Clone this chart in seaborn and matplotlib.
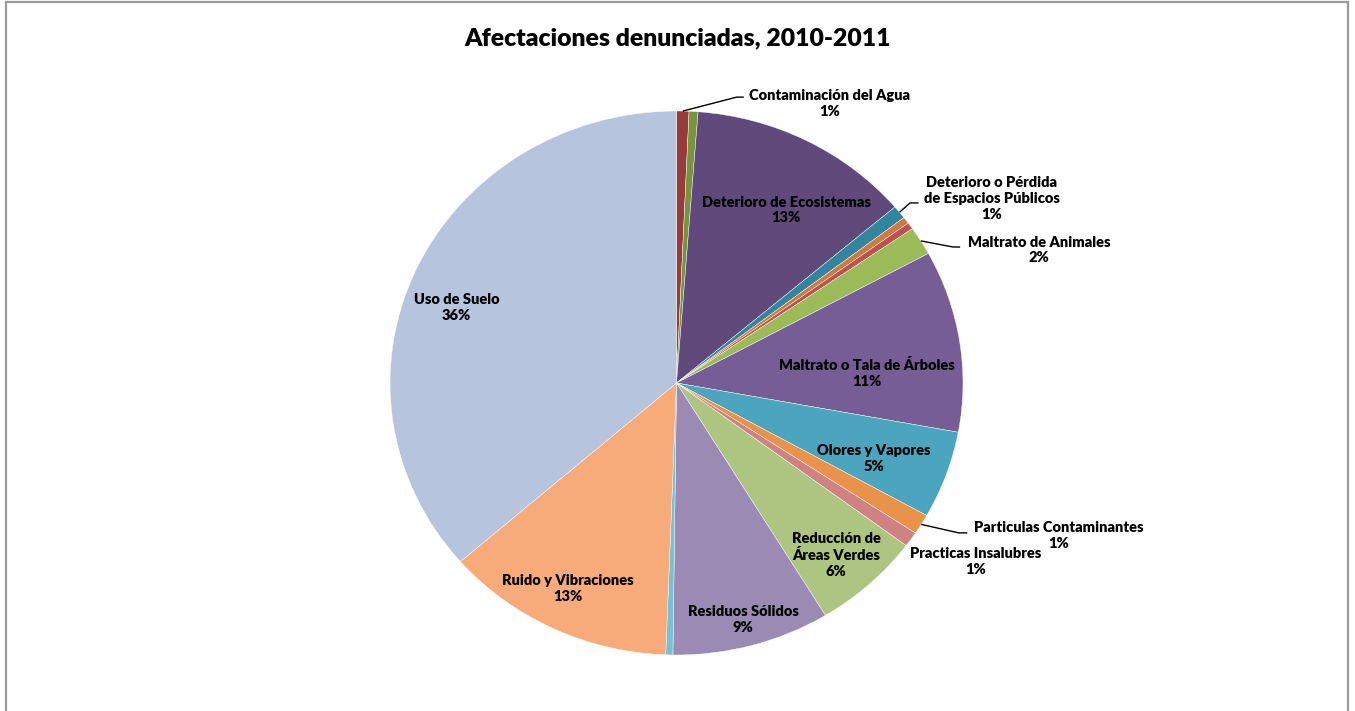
import numpy as np
import matplotlib
matplotlib.use("Agg")
import matplotlib.pyplot as plt
from matplotlib.patches import Rectangle
import seaborn as sns

# Share of each reported affectation (percent), clockwise from 12 o'clock
categorias = [
    "Contaminación del Agua", "", "Deterioro de Ecosistemas",
    "Deterioro o Pérdida\nde Espacios Públicos", "", "", "Maltrato de Animales",
    "Maltrato o Tala de Árboles", "Olores y Vapores", "Particulas Contaminantes",
    "Practicas Insalubres", "Reducción de\nÁreas Verdes", "Residuos Sólidos", "",
    "Ruido y Vibraciones", "Uso de Suelo",
]
porcentajes = [0.7, 0.5, 12.6, 0.8, 0.4, 0.4, 1.7, 10.8, 5.2, 1.2, 0.9, 6.1, 8.9, 0.4, 13.0, 36.4]
colores = [
    "#963C3A", "#77933C", "#604A7B", "#31859C", "#CB7B3E", "#C0504D", "#9BBB59",
    "#775D96", "#4BA5BE", "#E8924A", "#D08282", "#ADC580", "#9B8AB3", "#78C0D4",
    "#F7AB7A", "#B7C4DE",
]

# Label placement in pie units (x, y), plus optional leader-line end points
pos_etiqueta = {
    0: (0.535, 1.029), 2: (0.383, 0.636), 3: (1.100, 0.680), 6: (1.265, 0.489),
    7: (0.666, 0.037), 8: (0.690, -0.276), 9: (1.335, -0.559), 10: (1.045, -0.658),
    11: (0.557, -0.632), 12: (0.233, -0.868), 14: (-0.380, -0.754), 15: (-0.767, 0.279),
}
fin_guia = {0: (0.235, 1.051), 3: (0.845, 0.662), 6: (0.990, 0.500), 9: (1.015, -0.551)}
codo_guia = {0: (0.210, 1.051), 3: (0.815, 0.662), 6: (0.965, 0.500), 9: (0.985, -0.551)}

sns.set_theme(style="white")
plt.rcParams["font.family"] = ["Lato", "DejaVu Sans"]

W, H = 1355, 711
fig = plt.figure(figsize=(W / 100, H / 100), dpi=100)
fig.patch.set_facecolor("white")

# outer chart border
fig.patches.append(Rectangle((6 / W, -0.05), (1348 - 6) / W, 1.05 - 1.5 / H,
                             transform=fig.transFigure, fill=False,
                             edgecolor="#9A9A9A", linewidth=1.6))

ax = fig.add_axes([390 / W, 56 / H, 573 / W, 544 / H])
wedges, _ = ax.pie(porcentajes, colors=colores, startangle=90, counterclock=False,
                   radius=1.0, wedgeprops=dict(edgecolor="white", linewidth=0.3))
ax.set_aspect("auto")
ax.set_xlim(-1, 1)
ax.set_ylim(-1, 1)
ax.axis("off")

for i, w in enumerate(wedges):
    if i not in pos_etiqueta:
        continue
    txt = f"{categorias[i]}\n{porcentajes[i]:.0f}%"
    x, y = pos_etiqueta[i]
    ax.text(x, y, txt, ha="center", va="center", multialignment="center",
            fontsize=10.5, fontweight="heavy", color="black", linespacing=1.27,
            clip_on=False)
    if i in fin_guia:
        mid = np.deg2rad((w.theta1 + w.theta2) / 2)
        px, py = np.cos(mid), np.sin(mid)
        cx, cy = codo_guia[i]
        ex, ey = fin_guia[i]
        ax.plot([px, cx, ex], [py, cy, ey], color="black", linewidth=1.0,
                clip_on=False, solid_capstyle="butt")

fig.text(0.5, 1 - 38 / H, "Afectaciones denunciadas, 2010-2011", ha="center",
         va="center", fontsize=17.8, fontweight="heavy", color="black")

fig.savefig("out.png", dpi=100, facecolor="white")
